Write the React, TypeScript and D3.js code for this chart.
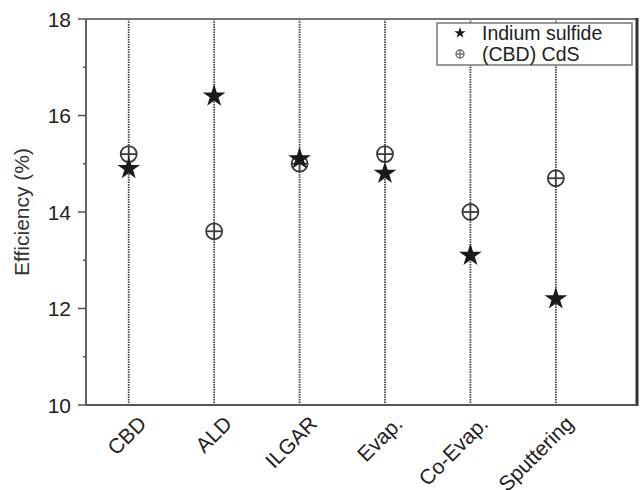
import React from "react";
import * as d3 from "d3";

const categories = ["CBD", "ALD", "ILGAR", "Evap.", "Co-Evap.", "Sputtering"];
const indiumSulfide = [14.9, 16.4, 15.1, 14.8, 13.1, 12.2];
const cdsValues = [15.2, 13.6, 15.0, 15.2, 14.0, 14.7];
const majorTicks = [10, 12, 14, 16, 18];
const minorTicks = [11, 13, 15, 17];
const legendLabels = ["Indium sulfide", "(CBD) CdS"];

const W = 644, H = 490;
const L = 86, R = 637, T = 19, B = 405;
const FONT = "'Liberation Sans', Arial, sans-serif";

export default function App() {
  const x = d3.scaleLinear().domain([0.5, 6.95]).range([L, R]);
  const y = d3.scaleLinear().domain([10, 18]).range([B, T]);
  const star = d3.symbol().type(d3.symbolStar).size(160)()!;
  const starSmall = d3.symbol().type(d3.symbolStar).size(40)()!;

  const cdsMark = (cx: number, cy: number, r: number, sw: number, color: string, key: string) => (
    <g key={key} transform={`translate(${cx},${cy})`} stroke={color} strokeWidth={sw} fill="none">
      <circle r={r} fill="white" />
      <line x1={-r} x2={r} y1={0} y2={0} />
      <line x1={0} x2={0} y1={-r} y2={r} />
    </g>
  );

  return (
    <svg width={W} height={H} style={{ position: "absolute", left: 0, top: 0, background: "white" }} fontFamily={FONT}>
      <rect x={0} y={0} width={W} height={H} fill="white" />
      {categories.map((c, i) => (
        <line key={c} x1={x(i + 1)} x2={x(i + 1)} y1={T} y2={B} stroke="#444" strokeWidth={1.8} strokeDasharray="1.5,1" />
      ))}
      <line x1={L} x2={R} y1={T} y2={T} stroke="#777" strokeWidth={2} />
      <line x1={R} x2={R} y1={T - 1} y2={B + 1} stroke="#333" strokeWidth={3} />
      <line x1={L} x2={R} y1={B} y2={B} stroke="#555" strokeWidth={1.8} />
      <line x1={L} x2={L} y1={T} y2={B} stroke="#555" strokeWidth={1.8} />
      {majorTicks.map((t) => (
        <g key={t}>
          <line x1={L - 8} x2={L} y1={y(t)} y2={y(t)} stroke="#555" strokeWidth={1.5} />
          <text x={71} y={y(t)} dy="0.36em" textAnchor="end" fontSize={21} fill="#222">{t}</text>
        </g>
      ))}
      {minorTicks.map((t) => (
        <line key={t} x1={L - 3} x2={L} y1={y(t)} y2={y(t)} stroke="#555" strokeWidth={1.5} />
      ))}
      <text transform={`translate(29,${(T + B) / 2}) rotate(-90)`} textAnchor="middle" fontSize={21} fill="#333">Efficiency (%)</text>
      {categories.map((c, i) => (
        <text key={c} transform={`translate(${x(i + 1) + 19},${B + 20}) rotate(-45)`} textAnchor="end" fontSize={21} fill="#222">{c}</text>
      ))}
      {cdsValues.map((v, i) => cdsMark(x(i + 1), y(v), 8, 1.8, "#3a3a3a", "c" + i))}
      {indiumSulfide.map((v, i) => (
        <path key={"s" + i} d={star} transform={`translate(${x(i + 1)},${y(v)})`} fill="#1a1a1a" />
      ))}
      <rect x={437} y={23} width={195} height={42} fill="white" stroke="#777" strokeWidth={1.5} />
      <path d={starSmall} transform="translate(460,33)" fill="#1a1a1a" />
      {cdsMark(460, 54, 4, 1.3, "#666", "lg")}
      <text x={482} y={39.5} fontSize={19.5} fill="#222">{legendLabels[0]}</text>
      <text x={482} y={60.5} fontSize={19.5} fill="#222">{legendLabels[1]}</text>
    </svg>
  );
}
